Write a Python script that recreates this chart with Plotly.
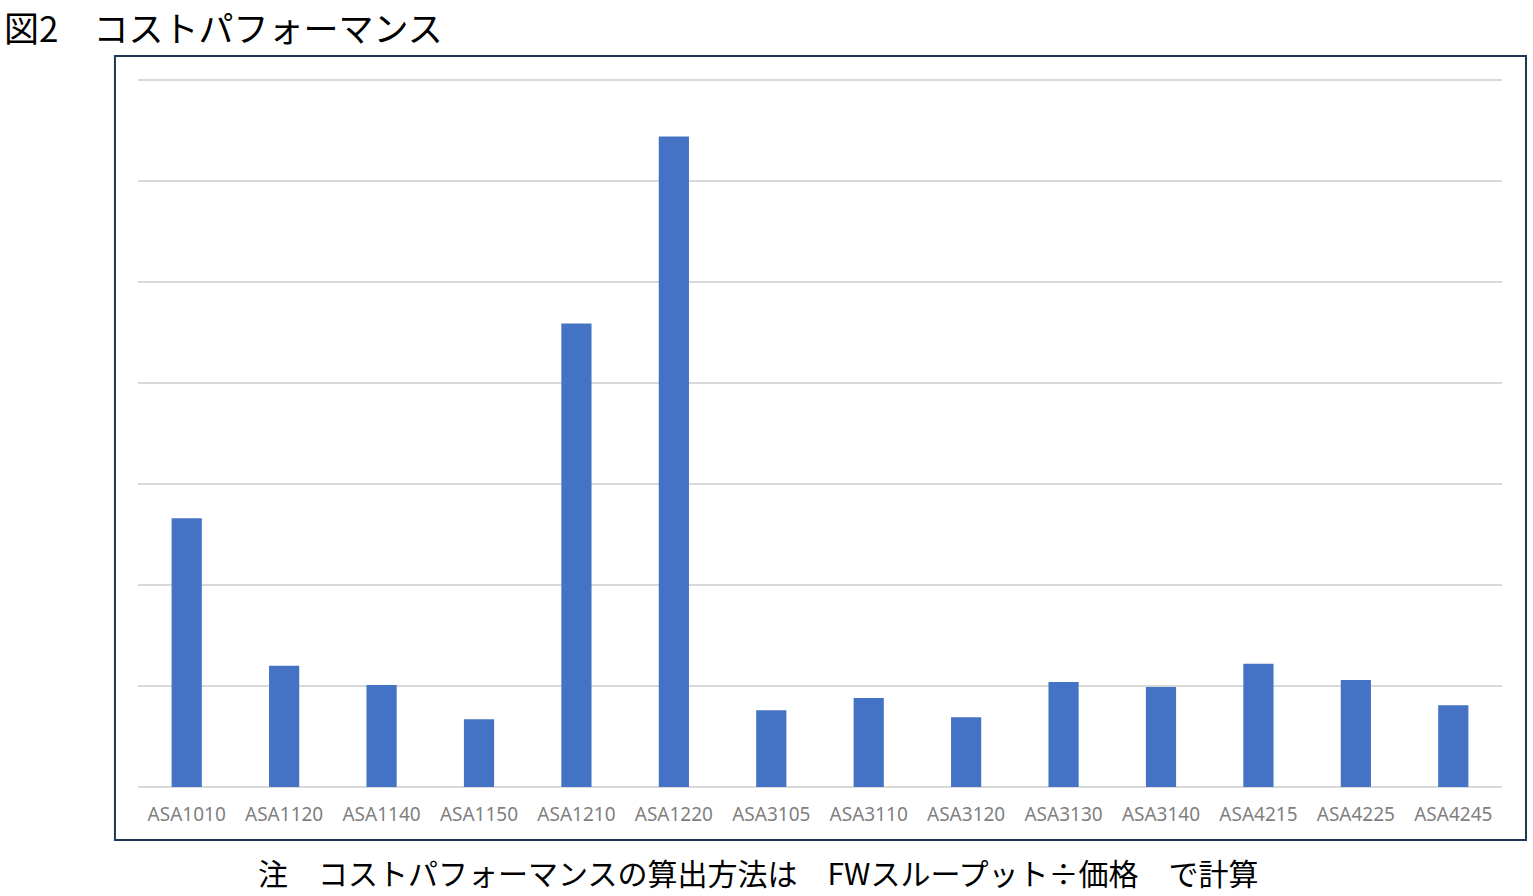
import plotly.graph_objects as go

models = ['ASA1010', 'ASA1120', 'ASA1140', 'ASA1150', 'ASA1210', 'ASA1220', 'ASA3105',
          'ASA3110', 'ASA3120', 'ASA3130', 'ASA3140', 'ASA4215', 'ASA4225', 'ASA4245']
cost_perf = [2.66, 1.20, 1.01, 0.67, 4.59, 6.44, 0.76, 0.88, 0.69, 1.04, 0.99, 1.22, 1.06, 0.81]

TITLE = '図2　コストパフォーマンス'
NOTE = '注　コストパフォーマンスの算出方法は　FWスループット÷価格　で計算'
JP_FONT = 'Noto Sans CJK JP'

fig = go.Figure()
fig.add_bar(x=models, y=cost_perf, marker_color='#4472C4', marker_line_width=0)

fig.update_layout(
    width=1533, height=896,
    margin=dict(l=138, r=31, t=79, b=109),
    paper_bgcolor='white', plot_bgcolor='white',
    bargap=0.69, showlegend=False,
    font=dict(family=JP_FONT),
)
fig.update_xaxes(showgrid=False, showline=False, ticks='', ticklabelstandoff=14,
                 tickfont=dict(family='Noto Sans', size=19, color='#7f7f7f'))
fig.update_yaxes(range=[0, 7.01], dtick=1, showticklabels=False, gridcolor='#D9D9D9',
                 gridwidth=2, zeroline=True, zerolinecolor='#D9D9D9', zerolinewidth=2)

# chart frame
fig.add_shape(type='rect', xref='paper', yref='paper',
              x0=-0.0169, x1=1.0176, y0=-0.0749, y1=1.0325,
              line=dict(color='#1F3756', width=2), fillcolor='rgba(0,0,0,0)', layer='below')

fig.add_annotation(text=TITLE, xref='paper', yref='paper', x=-0.099, y=1.111,
                   xanchor='left', yanchor='top', showarrow=False, borderpad=0,
                   font=dict(family=JP_FONT, size=35, color='black'))
fig.add_annotation(text=NOTE, xref='paper', yref='paper', x=0.455, y=-0.12,
                   xanchor='center', yanchor='middle', showarrow=False,
                   font=dict(family=JP_FONT, size=30, color='black'))

# page body has a default 8px margin; drop it so the figure sits at the corner
fig.write_html('out.html', config={'displayModeBar': False},
               post_script="document.body.style.margin='0';")
